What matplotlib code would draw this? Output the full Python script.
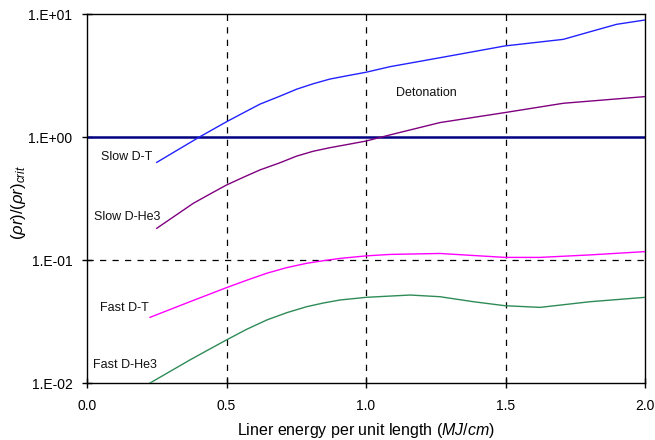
import matplotlib
matplotlib.use("Agg")
import matplotlib.pyplot as plt
from matplotlib.ticker import FixedLocator, NullLocator

plt.rcParams['font.family'] = ['Liberation Sans', 'DejaVu Sans']
plt.rcParams['mathtext.fontset'] = 'custom'
plt.rcParams['mathtext.rm'] = 'Liberation Sans'
plt.rcParams['mathtext.it'] = 'Liberation Sans:italic'

# Slow D-T
x_sdt = [0.25, 0.403, 0.5, 0.56, 0.62, 0.692, 0.752, 0.811, 0.871, 0.943, 1.0, 1.086, 1.265, 1.498, 1.707, 1.803, 1.898, 2.0]
y_sdt = [0.622, 1.0, 1.33, 1.57, 1.85, 2.15, 2.45, 2.71, 2.96, 3.18, 3.36, 3.73, 4.41, 5.5, 6.22, 7.17, 8.24, 8.94]
# Slow D-He3
x_sdh = [0.25, 0.381, 0.441, 0.5, 0.56, 0.62, 0.692, 0.752, 0.811, 0.871, 0.943, 1.0, 1.086, 1.265, 1.498, 1.707, 2.0]
y_sdh = [0.181, 0.289, 0.344, 0.407, 0.47, 0.54, 0.618, 0.70, 0.766, 0.819, 0.877, 0.927, 1.04, 1.31, 1.58, 1.88, 2.13]
# Fast D-T
x_fdt = [0.226, 0.369, 0.5, 0.572, 0.644, 0.716, 0.787, 0.847, 0.907, 1.0, 1.086, 1.265, 1.498, 1.624, 1.803, 2.0]
y_fdt = [0.0342, 0.0458, 0.0596, 0.0684, 0.078, 0.0867, 0.094, 0.0987, 0.103, 0.108, 0.111, 0.113, 0.105, 0.105, 0.11, 0.117]
# Fast D-He3
x_fdh = [0.226, 0.369, 0.429, 0.5, 0.572, 0.644, 0.716, 0.787, 0.847, 0.907, 1.0, 1.086, 1.158, 1.265, 1.385, 1.498, 1.624, 1.803, 2.0]
y_fdh = [0.01, 0.0154, 0.0183, 0.0224, 0.0273, 0.0325, 0.0373, 0.0417, 0.0447, 0.0473, 0.0497, 0.0509, 0.0519, 0.0503, 0.0458, 0.0425, 0.0412, 0.0458, 0.0497]

detonation_level = 1.0
ref_level = 0.1
vlines = [0.5, 1.0, 1.5]

x_ticks = [0.0, 0.5, 1.0, 1.5, 2.0]
x_ticklabels = ["0.0", "0.5", "1.0", "1.5", "2.0"]
y_ticks = [0.01, 0.1, 1.0, 10.0]
y_ticklabels = ["1.E-02", "1.E-01", "1.E+00", "1.E+01"]

labels = [("Slow D-T", 0.143, 0.687), ("Slow D-He3", 0.143, 0.224),
          ("Fast D-T", 0.135, 0.0407), ("Fast D-He3", 0.135, 0.014),
          ("Detonation", 1.215, 2.28)]

fig = plt.figure(figsize=(6.55, 4.4), dpi=100)
ax = fig.add_axes([87/655, 1-383/440, (645-87)/655, (383-14)/440])
ax.set_yscale('log')
ax.set_xlim(0, 2.0)
ax.set_ylim(0.01, 10)

for v in vlines:
    ax.axvline(v, color='black', lw=0.9, ls=(0, (5, 5)), zorder=1)
ax.axhline(ref_level, color='black', lw=0.9, ls=(0, (5, 5)), zorder=1)
ax.axhline(detonation_level, color='#000080', lw=1.8, zorder=2)

ax.plot(x_sdt, y_sdt, color='#2222ff', lw=1.0, zorder=3)
ax.plot(x_sdh, y_sdh, color='#800080', lw=1.0, zorder=3)
ax.plot(x_fdt, y_fdt, color='#ff00ff', lw=1.0, zorder=3)
ax.plot(x_fdh, y_fdh, color='#2e8b57', lw=1.0, zorder=3)

for t, x, y in labels:
    ax.text(x, y, t, ha='center', va='center', fontsize=9, color='#111111')

ax.xaxis.set_major_locator(FixedLocator(x_ticks))
ax.set_xticklabels(x_ticklabels)
ax.yaxis.set_major_locator(FixedLocator(y_ticks))
ax.yaxis.set_minor_locator(NullLocator())
ax.set_yticklabels(y_ticklabels)
ax.tick_params(axis='both', direction='inout', length=7, width=1, labelsize=10)
ax.tick_params(axis='x', pad=8)
ax.tick_params(axis='y', pad=7)
for s in ax.spines.values():
    s.set_linewidth(1.0)

ax.set_xlabel(r"Liner energy per unit length ($\mathit{MJ/cm}$)", fontsize=11.5, labelpad=6)
ax.set_ylabel(r"($\rho\mathit{r}$)/($\rho\mathit{r}$)$_{\mathit{crit}}$", fontsize=12)
ax.yaxis.label.set_va('center')
ax.yaxis.set_label_coords((19 - 87) / 558, 0.49)

fig.savefig("out.png", dpi=100)
